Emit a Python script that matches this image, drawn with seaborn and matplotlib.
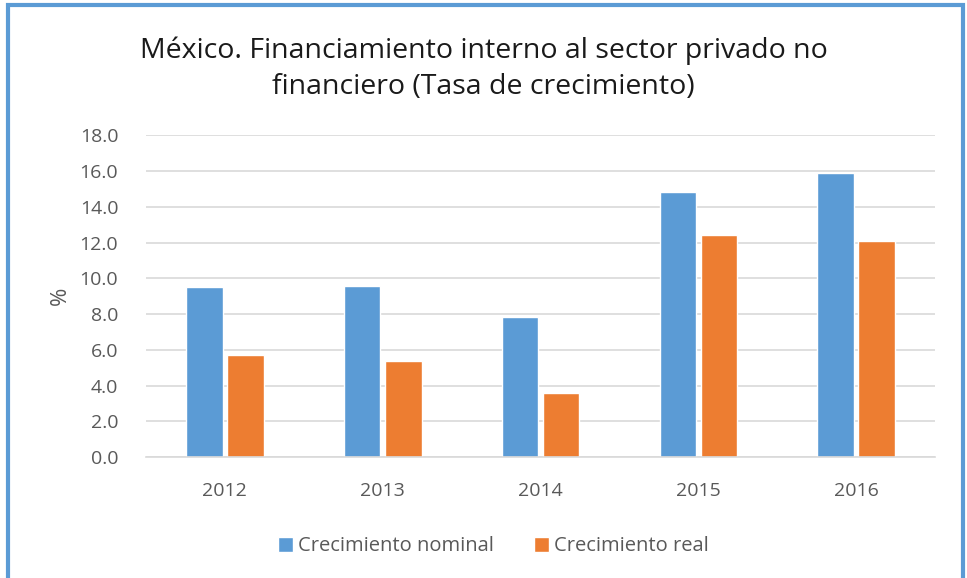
import matplotlib
matplotlib.use('Agg')
import matplotlib.pyplot as plt
import seaborn as sns
import pandas as pd
from matplotlib.patches import Rectangle

# Data
years = ['2012', '2013', '2014', '2015', '2016']
nominal = [9.5, 9.55, 7.83, 14.83, 15.87]
real = [5.74, 5.37, 3.61, 12.45, 12.11]
series_names = ['Crecimiento nominal', 'Crecimiento real']
yticks = [0, 2, 4, 6, 8, 10, 12, 14, 16, 18]

df = pd.DataFrame({
    'year': years * 2,
    'value': nominal + real,
    'serie': [series_names[0]] * len(years) + [series_names[1]] * len(years),
})

sns.set_style('white')
plt.rcParams['font.family'] = ['Open Sans', 'DejaVu Sans']
text_gray = '#595959'
grid_gray = '#d9d9d9'
colors = ['#5B9BD5', '#ED7D31']

fig = plt.figure(figsize=(9.67, 5.78), dpi=100)
ax = fig.add_axes([0.151, 0.209, 0.816, 0.557])

sns.barplot(data=df, x='year', y='value', hue='serie', palette=colors,
            width=0.52, gap=0.11, saturation=1, ax=ax, legend=True)

ax.set_ylim(0, 18)
ax.set_yticks(yticks)
ax.set_yticklabels([f'{t:.1f}' for t in yticks])
ax.set_xlim(-0.5, len(years) - 0.5)
ax.grid(True, axis='y', color=grid_gray, linewidth=1.2)
ax.set_axisbelow(True)
for side in ['top', 'right', 'left']:
    ax.spines[side].set_visible(False)
ax.spines['bottom'].set_color(grid_gray)
ax.spines['bottom'].set_linewidth(1.2)
ax.tick_params(axis='both', length=0, labelsize=14, colors=text_gray)
ax.tick_params(axis='x', pad=18)
ax.tick_params(axis='y', pad=20)
ax.set_xlabel('')
ax.set_ylabel('%', fontsize=16, color=text_gray, labelpad=6)

ax.legend(loc='upper center', bbox_to_anchor=(0.44, -0.19), ncol=2, frameon=False,
          fontsize=14.5, labelcolor=text_gray, handlelength=0.75, handleheight=0.75,
          handletextpad=0.25, columnspacing=2.0)

fig.text(0.5, 0.881, 'México. Financiamiento interno al sector privado no\nfinanciero (Tasa de crecimiento)',
         ha='center', va='center', fontsize=20.5, color='#1a1a1a', linespacing=1.35)

fig.patches.append(Rectangle((0.008, -0.02), 0.988, 1.011, transform=fig.transFigure,
                             fill=False, edgecolor='#5B9BD5', linewidth=3))

fig.savefig('out.png', dpi=100)
